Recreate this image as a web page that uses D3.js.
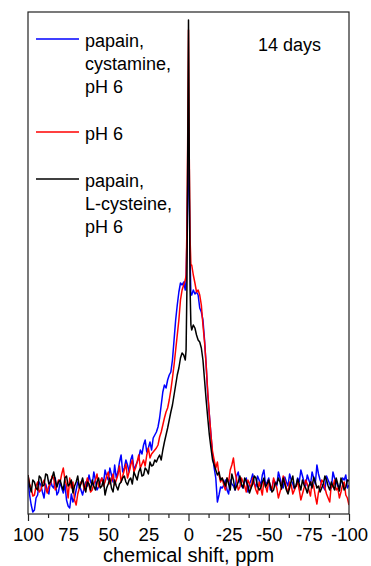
<!DOCTYPE html>
<html>
<head>
<meta charset="utf-8">
<script src="https://cdn.jsdelivr.net/npm/d3@7/dist/d3.min.js"></script>
<style>
  html, body { margin: 0; padding: 0; background: #fff; }
  svg { display: block; font-family: Arial, "Liberation Sans", Helvetica, sans-serif; }
</style>
</head>
<body>
<svg id="chart" width="371" height="566"></svg>
<script>
// ---- Data (chemical shift grid in ppm, intensities in arbitrary units) ----
const ppm = [].concat(
  d3.range(100, 20, -1),            // 100 .. 21
  d3.range(20, 1, -1),              // 20 .. 2
  [1.5, 1, 0.5, 0, -0.5, -1, -1.5],
  d3.range(-2, -21, -1),            // -2 .. -20
  d3.range(-21, -101, -1)           // -21 .. -100
);

const blueCystamine = [
  // 100 .. 21
  10, -5, -15, -22, -20, -8, -5, 8, 5, -2, -8, 6, 0, -4, 10, 4, 2, 12, -5, -2,
  8, 2, -3, 6, -10, -16, -18, -4, -12, -8, 0, 8, 5, 0, -5, 2, 8, 4, 15, 8,
  5, 18, 10, 0, 3, 8, 12, 6, 20, 14, 10, 22, 15, 8, 25, 12, 18, 28, 35, 18,
  22, 30, 25, 18, 30, 35, 20, 24, 28, 32, 40, 36, 45, 50, 38, 42, 48, 40, 52, 55,
  // 20 .. 2
  58, 63, 72, 85, 98, 105, 102, 110, 115, 118, 130, 150, 170, 185, 198, 207, 205, 208, 200,
  // spike
  210, 250, 300, 360, 290, 230, 195,
  // -2 .. -20
  195, 200, 196, 198, 195, 182, 178, 170, 150, 125, 95, 75, 55, 35, 22, 12, -12, -5, 3,
  // -21 .. -100
  2, 5, 10, 0, -4, 10, 6, 4, 0, 14, 18, 8, 4, 2, 8, 12, -2, 6, 10, 16,
  6, 3, 14, 10, 4, 15, 20, 5, 8, 12, 0, 2, 10, 8, 4, 18, 12, 6, 2, 13,
  8, 4, 16, 10, 6, 1, 4, 12, 8, 20, 14, 8, 4, 15, 10, 5, 18, 12, 6, 25,
  16, 10, 6, 3, 0, 14, 10, 6, 2, 18, 12, 8, 4, 2, 8, 12, 10, 15, 2, 5
];

const redPH6 = [
  // 100 .. 21
  15, 6, 2, -6, -5, 4, 8, -2, 0, 6, 10, 2, -3, 4, 6, 14, 12, 0, 4, 10,
  8, 16, 22, 10, 5, -8, 12, 2, 8, -10, -15, -4, 2, 8, 10, 0, 5, 12, 5, -2,
  0, 6, 10, 16, 3, 8, 12, 4, 8, 14, 18, 6, 10, 16, 5, 10, 15, 24, 8, 14,
  20, 26, 12, 18, 25, 30, 18, 22, 28, 35, 22, 26, 30, 24, 35, 42, 32, 36, 38, 40,
  // 20 .. 2
  42, 45, 53, 58, 65, 72, 78, 82, 90, 100, 112, 125, 140, 155, 170, 190, 200, 205, 210,
  // spike
  215, 260, 350, 460, 330, 250, 225,
  // -2 .. -20
  225, 215, 207, 198, 200, 195, 185, 165, 148, 125, 98, 75, 55, 38, 30, 22, 28, 15, 8,
  // -21 .. -100
  12, 5, 0, 12, 8, 20, 25, 32, 18, 10, 0, 3, 12, 8, 4, -2, 10, 6, 2, 12,
  6, 0, -4, 8, 2, -5, 10, 4, -2, 10, 4, 0, 12, 6, 2, -8, -2, 3, 14, 9,
  2, -3, 8, 5, -4, 0, 4, 8, 0, -10, -4, 2, 10, 6, 0, -6, 8, 4, -6, -14,
  -2, 2, 10, 8, 2, -4, -8, -12, 6, 3, 10, 0, 2, -8, -2, 5, 8, -5, -8, -15
];

const blackCysteine = [
  // 100 .. 21
  15, 4, -2, 10, 8, 2, 0, 14, 12, 4, 5, 16, 15, 6, 8, 12, 18, 10, 3, 8,
  10, 4, 0, 12, 14, 4, 6, 10, -3, 4, 8, 14, 2, 6, 12, 4, -2, 8, 6, 0,
  10, 4, 0, 8, 12, 2, 4, 10, -5, 2, 6, 12, 2, -2, 10, 4, 0, 6, 8, 12,
  14, 8, 5, 10, 12, 6, 18, 14, 10, 18, 22, 14, 15, 22, 20, 16, 28, 24, 25, 30,
  // 20 .. 2
  28, 32, 35, 30, 40, 48, 55, 62, 70, 78, 85, 95, 105, 115, 122, 132, 137, 135, 130,
  // spike
  140, 200, 330, 470, 320, 200, 165,
  // -2 .. -20
  160, 165, 162, 155, 150, 148, 142, 130, 110, 90, 72, 55, 42, 30, 25, 20, 15, 18, 10,
  // -21 .. -100
  12, 8, 4, 12, 6, 0, 16, 10, 0, 4, 8, 14, 6, 2, 12, 9, 4, -3, 2, 6,
  14, 12, 4, 0, 2, 8, 12, 3, 6, 10, 4, -2, 0, 7, 6, 12, 8, 1, 12, 6,
  0, -4, 2, 9, 14, 2, 4, 11, 6, 0, 10, 5, 2, -3, 4, 8, 2, 13, 8, 2,
  4, -2, 2, 6, 14, 10, 4, 0, 8, 4, 0, 12, 6, -1, 12, 7, 0, 3, 10, 9
];

const seriesNames = [["papain,", "cystamine,", "pH 6"], ["pH 6"], ["papain,", "L-cysteine,", "pH 6"]];
const seriesColors = ["#0000ff", "#ff0000", "#000000"];
const majorTicks = [100, 75, 50, 25, 0, -25, -50, -75, -100];
const minorTicks = [87.5, 62.5, 37.5, 12.5, -12.5, -37.5, -62.5, -87.5];
const xTitle = "chemical shift, ppm";
const annotation = "14 days";

// ---- Layout ----
const svg = d3.select("#chart");
const mLeft = 28, mRight = 349, mTop = 12, mBottom = 514;

const x = d3.scaleLinear().domain([100, -100]).range([mLeft, mRight]);
const y = d3.scaleLinear().domain([-24, 478]).range([mBottom, mTop]);

svg.append("defs").append("clipPath").attr("id", "plotclip")
  .append("rect").attr("x", mLeft).attr("y", mTop).attr("width", mRight - mLeft).attr("height", mBottom - mTop);

const line = d3.line().x((d, i) => x(ppm[i])).y(d => y(d));

const plot = svg.append("g").attr("clip-path", "url(#plotclip)");
[blueCystamine, redPH6, blackCysteine].forEach((s, k) => {
  plot.append("path")
    .datum(s)
    .attr("fill", "none")
    .attr("stroke", seriesColors[k])
    .attr("stroke-width", 1.5)
    .attr("stroke-linejoin", "round")
    .attr("d", line);
});

// frame
svg.append("rect")
  .attr("x", mLeft).attr("y", mTop)
  .attr("width", mRight - mLeft).attr("height", mBottom - mTop)
  .attr("fill", "none").attr("stroke", "#222").attr("stroke-width", 1.2);

// axes
const minorAxis = svg.append("g").attr("transform", `translate(0,${mBottom})`)
  .call(d3.axisBottom(x).tickValues(minorTicks).tickSize(4).tickFormat(""));
minorAxis.select(".domain").remove();
minorAxis.selectAll("line").attr("stroke", "#222").attr("stroke-width", 1.2);

const majorAxis = svg.append("g").attr("transform", `translate(0,${mBottom})`)
  .call(d3.axisBottom(x).tickValues(majorTicks).tickSize(7).tickFormat(d => String(d)));
majorAxis.select(".domain").remove();
majorAxis.selectAll("line").attr("stroke", "#222").attr("stroke-width", 1.2);
majorAxis.selectAll("text")
  .attr("y", 26.5).attr("dy", null)
  .attr("fill", "#000")
  .style("font-size", "18.5px")
  .style("font-family", "Arial, 'Liberation Sans', sans-serif");

svg.append("text")
  .attr("x", (mLeft + mRight) / 2).attr("y", 562)
  .attr("text-anchor", "middle")
  .style("font-size", "20px")
  .attr("fill", "#000")
  .text(xTitle);

// legend
const legendLineY = [39, 132, 179];
seriesNames.forEach((lines, k) => {
  svg.append("line")
    .attr("x1", 36).attr("x2", 79)
    .attr("y1", legendLineY[k]).attr("y2", legendLineY[k])
    .attr("stroke", seriesColors[k]).attr("stroke-width", 1.4);
  lines.forEach((t, j) => {
    svg.append("text")
      .attr("x", 85).attr("y", legendLineY[k] + 8 + j * 23)
      .style("font-size", "18px")
      .attr("fill", "#000")
      .text(t);
  });
});

svg.append("text")
  .attr("x", 258).attr("y", 51)
  .style("font-size", "18px")
  .attr("fill", "#000")
  .text(annotation);
</script>
</body>
</html>
